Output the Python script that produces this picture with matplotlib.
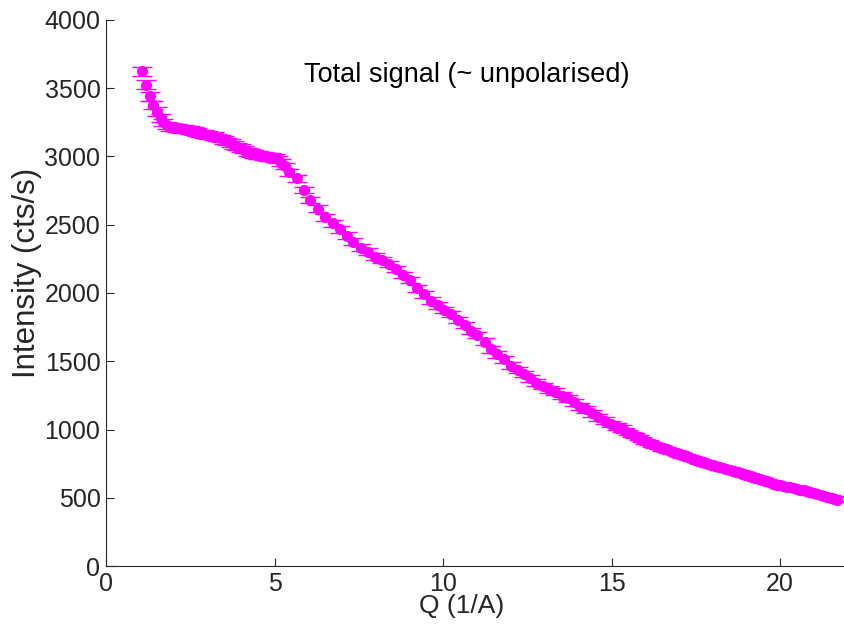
import matplotlib
matplotlib.use("Agg")
import matplotlib.pyplot as plt
import numpy as np

plt.rcParams['font.family'] = ['Liberation Sans', 'DejaVu Sans']

# --- data ---
q_low = [1.08, 1.19, 1.31, 1.40, 1.50, 1.62]
i_low = [3625, 3525, 3440, 3378, 3328, 3282]

q_plateau = [1.70, 1.80, 1.90, 2.00, 2.10, 2.20, 2.30, 2.40, 2.50, 2.60, 2.70, 2.80,
             2.90, 3.00, 3.10, 3.20, 3.30, 3.40, 3.50, 3.60, 3.70, 3.80, 3.90, 4.00,
             4.10, 4.20, 4.30, 4.40, 4.50, 4.60, 4.70, 4.80, 4.90, 5.00, 5.10, 5.20]
i_plateau = [3250, 3228, 3218, 3212, 3208, 3205, 3200, 3197, 3192, 3186, 3178, 3168,
             3163, 3160, 3155, 3150, 3140, 3132, 3122, 3110, 3098, 3085, 3072, 3062,
             3050, 3035, 3024, 3016, 3010, 3006, 3002, 2998, 2995, 2990, 2978, 2955]

q_mid = [5.30, 5.44, 5.66, 5.88, 6.06, 6.28, 6.50, 6.72, 6.93, 7.15, 7.34, 7.56,
         7.77, 7.98, 8.18, 8.40, 8.60, 8.80, 9.02, 9.22, 9.42, 9.63, 9.84, 10.03,
         10.24, 10.44, 10.64, 10.83, 11.02, 11.23, 11.41, 11.61, 11.82, 12.01, 12.21,
         12.40, 12.58, 12.76, 12.96, 13.15, 13.33, 13.52, 13.70, 13.89, 14.07, 14.24,
         14.43, 14.61, 14.81, 14.99, 15.15, 15.30]
i_mid = [2930, 2884, 2840, 2755, 2681, 2618, 2555, 2511, 2467, 2420, 2376, 2333,
         2303, 2266, 2242, 2212, 2176, 2132, 2095, 2034, 1990, 1944, 1910, 1874,
         1845, 1802, 1766, 1723, 1692, 1643, 1587, 1551, 1514, 1468, 1436,
         1407, 1375, 1343, 1319, 1294, 1277, 1248, 1229, 1199, 1167, 1148,
         1119, 1089, 1064, 1040, 1021, 1009]

q_high = [15.4, 15.5, 15.6, 15.7, 15.8, 15.9, 16.0, 16.1, 16.2, 16.3, 16.4, 16.5,
          16.6, 16.7, 16.8, 16.9, 17.0, 17.1, 17.2, 17.3, 17.4, 17.5, 17.6, 17.7,
          17.8, 17.9, 18.0, 18.1, 18.2, 18.3, 18.4, 18.5, 18.6, 18.7, 18.8, 18.9,
          19.0, 19.1, 19.2, 19.3, 19.4, 19.5, 19.6, 19.7, 19.8, 19.9, 20.0, 20.1,
          20.2, 20.3, 20.4, 20.5, 20.6, 20.7, 20.8, 20.9, 21.0, 21.1, 21.2, 21.3,
          21.4, 21.5, 21.6, 21.7]
i_high = [990, 975, 965, 955, 940, 928, 915, 902, 893, 884, 873, 864,
          856, 847, 838, 830, 821, 812, 803, 795, 787, 778, 769, 761,
          752, 745, 738, 731, 724, 717, 711, 705, 699, 692, 685, 677,
          668, 658, 650, 643, 636, 628, 621, 613, 604, 596, 590, 585,
          580, 576, 571, 566, 560, 554, 548, 541, 534, 527, 520, 514,
          508, 500, 493, 487]

err_low = 32
err_plateau = 28
err_mid = 24
err_high = 18

x_ticks = [0, 5, 10, 15, 20]
y_ticks = [0, 500, 1000, 1500, 2000, 2500, 3000, 3500, 4000]

# --- plot ---
fig = plt.figure(figsize=(8.44, 6.28), dpi=100)
ax = fig.add_axes([0.1256, 0.0987, 0.8734, 0.8695])

dark = '#262626'
mag = '#ff00ff'

for q, ii, e in [(q_low, i_low, err_low), (q_plateau, i_plateau, err_plateau),
                 (q_mid, i_mid, err_mid), (q_high, i_high, err_high)]:
    ax.errorbar(q, ii, yerr=e, fmt='o', color=mag, ecolor=mag, mfc=mag, mec=mag,
                ms=7, elinewidth=1.0, capsize=7, capthick=1.0, zorder=3)

ax.set_xlim(0, 21.87)
ax.set_ylim(0, 4000)
ax.set_xticks(x_ticks)
ax.set_yticks(y_ticks)

for s in ['top', 'right']:
    ax.spines[s].set_visible(False)
for s in ['left', 'bottom']:
    ax.spines[s].set_color(dark)
    ax.spines[s].set_linewidth(0.8)

ax.tick_params(direction='in', length=6, width=0.8, colors=dark, labelsize=18, pad=4)
ax.set_xlabel('Q (1/A)', fontsize=19, color=dark)
ax.set_ylabel('Intensity (cts/s)', fontsize=22.5, color=dark)
ax.xaxis.set_label_coords(0.483, -0.052)
ax.yaxis.set_label_coords(-0.087, 0.537)

ax.text(10.7, 3600, 'Total signal (~ unpolarised)', fontsize=19.5, color='black',
        ha='center', va='center')

fig.savefig('out.png', dpi=100)
